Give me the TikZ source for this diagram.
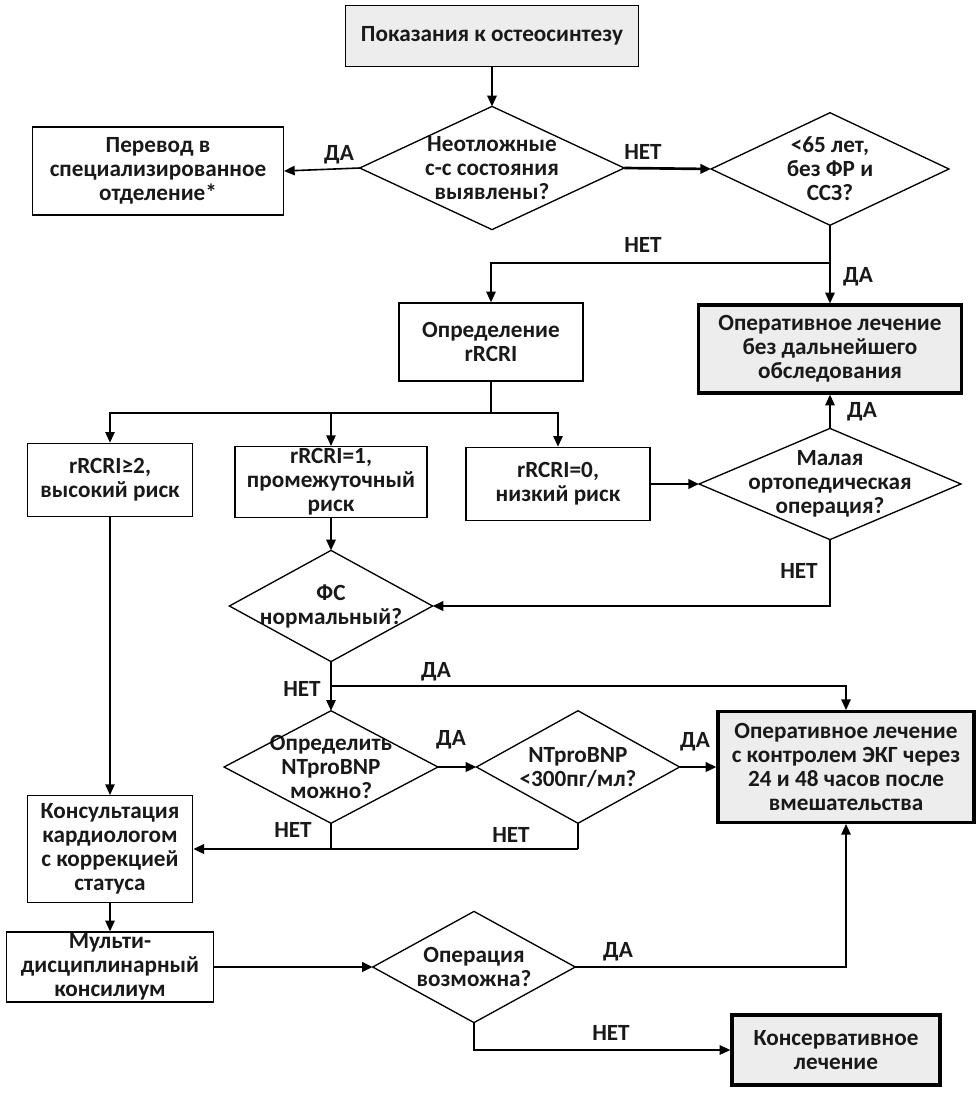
\documentclass[tikz,border=0pt]{standalone}
\usepackage{fontspec}
\setmainfont{Carlito}
\usetikzlibrary{arrows.meta}

\begin{document}
\begin{tikzpicture}[x=0.75pt,y=-0.75pt]
\tikzset{
  every node/.style={font=\bfseries\fontsize{17.4}{18}\selectfont, text=black!90, align=center},
  box/.style={draw, line width=1pt, inner sep=0pt},
  endbox/.style={box, fill=black!7, line width=2.4pt},
  decision/.style={inner sep=0pt},
  lbl/.style={inner sep=0pt},
  link/.style={line width=1.2pt},
  heavy/.style={line width=2pt},
  flow/.style={link, -{Triangle[length=8pt,width=7pt]}},
}
\useasboundingbox (0,0) rectangle (978,1093);
\fill[white] (0,0) rectangle (978,1093);

% boxes
\node[box, fill=black!7, minimum width=220pt, minimum height=46pt] (start) at (492,36) {Показания к остеосинтезу};
\node[decision, minimum width=198pt, minimum height=92pt] (urgent) at (492,168) {Неотложные\\с-с состояния\\выявлены?};
\node[box, minimum width=188pt, minimum height=66pt] (transfer) at (158,171) {Перевод в\\специализированное\\отделение*};
\node[decision, minimum width=178pt, minimum height=84pt] (young) at (830,169) {<65 лет,\\без ФР и\\ССЗ?};
\node[box, minimum width=138pt, minimum height=58.5pt] (rcri) at (491,342) {Определение\\rRCRI};
\node[endbox, minimum width=197pt, minimum height=66pt] (opnow) at (830,349) {Оперативное лечение\\без дальнейшего\\обследования};
\node[box, minimum width=124pt, minimum height=55pt] (high) at (110,480) {rRCRI≥2,\\высокий риск};
\node[box, minimum width=144pt, minimum height=53pt] (mid) at (331,482) {rRCRI=1,\\промежуточный\\риск};
\node[box, minimum width=138pt, minimum height=55pt] (low) at (558,484) {rRCRI=0,\\низкий риск};
\node[decision, minimum width=196pt, minimum height=83pt] (minor) at (830,484) {Малая\\ортопедическая\\операция?};
\node[decision, minimum width=152pt, minimum height=83pt] (fs) at (331,606) {ФС\\нормальный?};
\node[decision, minimum width=160pt, minimum height=84pt] (bnpq) at (331,767) {Определить\\NTproBNP\\можно?};
\node[decision, minimum width=152pt, minimum height=84pt] (bnp) at (578,767) {NTproBNP\\<300пг/мл?};
\node[endbox, minimum width=192pt, minimum height=83pt] (opecg) at (846,767) {Оперативное лечение\\с контролем ЭКГ через\\24 и 48 часов после\\вмешательства};
\node[box, minimum width=124pt, minimum height=80pt] (cardio) at (110,849) {Консультация\\кардиологом\\с коррекцией\\статуса};
\node[box, minimum width=155pt, minimum height=52.5pt] (council) at (110,967) {Мульти-\\дисциплинарный\\консилиум};
\node[decision, minimum width=151.5pt, minimum height=83pt] (possible) at (474,967) {Операция\\возможна?};
\node[endbox, minimum width=156pt, minimum height=52.5pt] (conserv) at (836,1050) {Консервативное\\лечение};

% diamonds
\foreach \d in {urgent,young,minor,fs,bnpq,bnp,possible}
  \draw[line width=1pt] (\d.north) -- (\d.east) -- (\d.south) -- (\d.west) -- cycle;

% branch points
\coordinate (fork1) at (830,263);
\coordinate (bus) at (491,413);
\coordinate (fork2) at (331,686);
\coordinate (join1) at (578,849);

% connectors
\draw[flow] (start) -- (urgent.north);
\draw[flow] (urgent.west) -- (transfer.east);
\draw[flow, heavy] (urgent.east) -- (young.west);
\draw[flow] (young.south) -- (opnow.north);
\draw[flow] (fork1) -| (rcri.north);
\draw[link] (rcri.south) -- (bus);
\draw[flow] (bus) -| (high.north);
\draw[flow] (bus) -| (mid.north);
\draw[flow] (bus) -| (low.north);
\draw[flow, heavy] (low.east) -- (minor.west);
\draw[flow] (minor.north) -- (opnow.south);
\draw[flow, heavy] (minor.south) |- (fs.east);
\draw[flow] (mid.south) -- (fs.north);
\draw[flow] (fs.south) -- (bnpq.north);
\draw[flow] (fork2) -| (opecg.north);
\draw[flow, heavy] (bnpq.east) -- (bnp.west);
\draw[flow, heavy] (bnp.east) -- (opecg.west);
\draw[link] (bnp.south) -- (join1);
\draw[link] (bnpq.south) -- (bnpq.south |- join1);
\draw[flow, heavy] (join1) -- (cardio.east);
\draw[flow] (high.south) -- (cardio.north);
\draw[flow] (cardio.south) -- (council.north);
\draw[flow, heavy] (council.east) -- (possible.west);
\draw[flow] (possible.east) -| (opecg.south);
\draw[flow] (possible.south) |- (conserv.west);

% labels
\node[lbl] (yes1) at (339,155) {ДА};
\node[lbl] (no1) at (643,152) {НЕТ};
\node[lbl] (no2) at (643,245) {НЕТ};
\node[lbl] (yes2) at (858,277) {ДА};
\node[lbl] (yes3) at (862,412) {ДА};
\node[lbl] (no3) at (799,571) {НЕТ};
\node[lbl] (yes4) at (436,672) {ДА};
\node[lbl] (no4) at (302,689) {НЕТ};
\node[lbl] (yes5) at (451,740) {ДА};
\node[lbl] (yes6) at (695,742) {ДА};
\node[lbl] (no5) at (293,830) {НЕТ};
\node[lbl] (no6) at (511,835) {НЕТ};
\node[lbl] (yes7) at (618,952) {ДА};
\node[lbl] (no7) at (611,1033) {НЕТ};
\end{tikzpicture}
\end{document}
